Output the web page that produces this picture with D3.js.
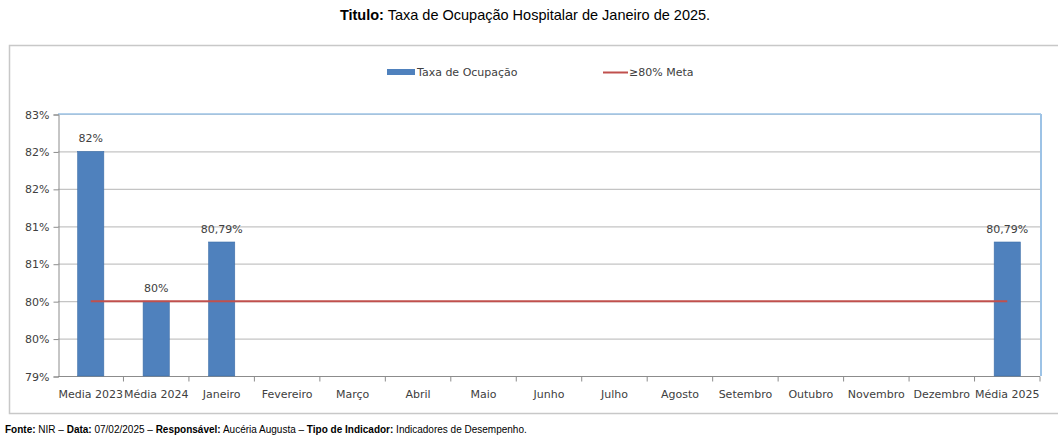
<!DOCTYPE html>
<html>
<head>
<meta charset="utf-8">
<script src="https://cdn.jsdelivr.net/npm/d3@7"></script>
<style>
  body { margin: 0; background: #fff; }
  text { font-family: "Liberation Sans", Arial, sans-serif; }
  .cal { font-family: "DejaVu Sans", sans-serif; }
</style>
</head>
<body>
<div id="chart"></div>
<script>
// dados
var categorias = ["Media 2023", "Média 2024", "Janeiro", "Fevereiro", "Março", "Abril", "Maio",
                  "Junho", "Julho", "Agosto", "Setembro", "Outubro", "Novembro", "Dezembro", "Média 2025"];
var taxaOcupacao = [82, 80, 80.79, null, null, null, null, null, null, null, null, null, null, null, 80.79];
var rotulos = ["82%", "80%", "80,79%", "", "", "", "", "", "", "", "", "", "", "", "80,79%"];
var meta = 80;
var yTicks = [79, 79.5, 80, 80.5, 81, 81.5, 82, 82.5];

var W = 1058, H = 437;
var svg = d3.select("#chart").append("svg").attr("width", W).attr("height", H);

// titulo
var t = svg.append("text").attr("x", 525).attr("y", 20).attr("text-anchor", "middle")
  .style("font-size", "14.5px").attr("fill", "#000");
t.append("tspan").style("font-weight", "bold").text("Titulo:");
t.append("tspan").text(" Taxa de Ocupação Hospitalar de Janeiro de 2025.");

// moldura do grafico
svg.append("rect").attr("x", 9.5).attr("y", 45.5).attr("width", 1060).attr("height", 368)
  .attr("fill", "none").attr("stroke", "#c8c8c8").attr("stroke-width", 1.5);

var pLeft = 58, pRight = 1040, pTop = 114, pBottom = 376;

var x = d3.scaleBand().domain(categorias).range([pLeft, pRight]).paddingInner(0.6).paddingOuter(0.3);
var xb = d3.scaleBand().domain(categorias).range([pLeft, pRight]);
var y = d3.scaleLinear().domain([79, 82.5]).range([pBottom, pTop]);

// grade
svg.append("g").selectAll("line").data(yTicks.slice(1)).join("line")
  .attr("x1", pLeft).attr("x2", pRight)
  .attr("y1", d => y(d) + 0.5).attr("y2", d => y(d) + 0.5)
  .attr("stroke", "#c4c4c4").attr("stroke-width", 1.2);

// borda da area de plotagem
svg.append("line").attr("x1", pLeft).attr("x2", pRight + 1).attr("y1", pTop).attr("y2", pTop)
  .attr("stroke", "#9dc3e6").attr("stroke-width", 1.5);
svg.append("line").attr("x1", pRight + 1).attr("x2", pRight + 1).attr("y1", pTop).attr("y2", pBottom)
  .attr("stroke", "#9dc3e6").attr("stroke-width", 2);

// eixo y
var yAxis = d3.axisLeft(y).tickValues(yTicks).tickSize(5).tickPadding(4)
  .tickFormat(d => Math.round(d) + "%");
var gy = svg.append("g").attr("transform", "translate(" + (pLeft + 0.5) + ",0.5)").call(yAxis);
gy.select(".domain").attr("stroke", "#8c8c8c");
gy.selectAll(".tick line").attr("stroke", "#8c8c8c");
gy.selectAll("text").attr("class", "cal").style("font-size", "11px").attr("fill", "#404040")
  .attr("font-family", null);

// eixo x
var gx = svg.append("g").attr("transform", "translate(0," + (pBottom + 0.5) + ")");
gx.append("line").attr("x1", pLeft).attr("x2", pRight).attr("stroke", "#8c8c8c");
gx.selectAll("line.tk").data(categorias.slice(1)).join("line").attr("class", "tk")
  .attr("x1", d => xb(d)).attr("x2", d => xb(d)).attr("y1", 0).attr("y2", 5)
  .attr("stroke", "#8c8c8c");
gx.append("line").attr("x1", pRight).attr("x2", pRight).attr("y1", 0).attr("y2", 5).attr("stroke", "#8c8c8c");
gx.selectAll("text").data(categorias).join("text").attr("class", "cal")
  .attr("x", d => xb(d) + xb.bandwidth() / 2).attr("y", 21)
  .attr("text-anchor", "middle").style("font-size", "11px").attr("fill", "#404040")
  .text(d => d);

// barras
var dados = categorias.map((c, i) => ({ c: c, v: taxaOcupacao[i], r: rotulos[i] }))
  .filter(d => d.v != null);
svg.append("g").selectAll("rect").data(dados).join("rect")
  .attr("x", d => x(d.c)).attr("width", x.bandwidth())
  .attr("y", d => y(d.v)).attr("height", d => pBottom - y(d.v))
  .attr("fill", "#4f81bd").attr("stroke", "#3f6fa8").attr("stroke-width", 0.6);

svg.append("g").selectAll("text").data(dados).join("text").attr("class", "cal")
  .attr("x", d => x(d.c) + x.bandwidth() / 2).attr("y", d => y(d.v) - 9)
  .attr("text-anchor", "middle").style("font-size", "11px").attr("fill", "#404040")
  .text(d => d.r);

// linha de meta
var c0 = categorias[0], cN = categorias[categorias.length - 1];
svg.append("line")
  .attr("x1", xb(c0) + xb.bandwidth() / 2).attr("x2", xb(cN) + xb.bandwidth() / 2)
  .attr("y1", y(meta)).attr("y2", y(meta))
  .attr("stroke", "#c0504d").attr("stroke-width", 2);

// legenda
var lg = svg.append("g");
lg.append("rect").attr("x", 387).attr("y", 69).attr("width", 28).attr("height", 6).attr("fill", "#4f81bd");
lg.append("text").attr("class", "cal").attr("x", 417).attr("y", 76).style("font-size", "11px")
  .attr("fill", "#404040").text("Taxa de Ocupação");
lg.append("line").attr("x1", 603).attr("x2", 628).attr("y1", 72.5).attr("y2", 72.5)
  .attr("stroke", "#c0504d").attr("stroke-width", 2);
lg.append("text").attr("class", "cal").attr("x", 629).attr("y", 76).style("font-size", "11px")
  .attr("fill", "#404040").text("≥80% Meta");

// rodape
var f = svg.append("text").attr("x", 5).attr("y", 433).style("font-size", "10px").attr("fill", "#000");
f.append("tspan").style("font-weight", "bold").text("Fonte:");
f.append("tspan").text(" NIR – ");
f.append("tspan").style("font-weight", "bold").text("Data:");
f.append("tspan").text(" 07/02/2025 – ");
f.append("tspan").style("font-weight", "bold").text("Responsável:");
f.append("tspan").text(" Aucéria Augusta – ");
f.append("tspan").style("font-weight", "bold").text("Tipo de Indicador:");
f.append("tspan").text(" Indicadores de Desempenho.");
</script>
</body>
</html>
